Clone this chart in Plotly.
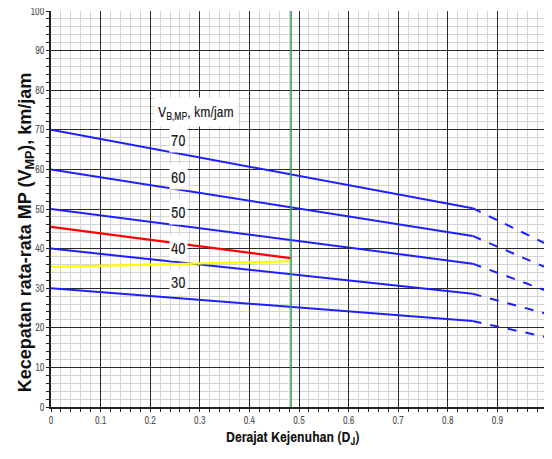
import plotly.graph_objects as go

# Data
vb_labels = ["70", "60", "50", "40", "30"]
x_solid = [0.0, 0.85]
x_dash = [0.85, 1.0]
v_at_0 = [70.0, 60.0, 50.0, 40.0, 30.0]
v_at_085 = [50.2, 43.2, 36.2, 28.6, 21.7]
v_at_1 = [41.1, 35.1, 29.3, 23.5, 17.6]
label_y = [67.3, 58.0, 49.3, 40.1, 31.6]

red_x = [0.0, 0.483]
red_y = [45.5, 37.6]
yellow_x = [0.0, 0.483]
yellow_y = [35.4, 36.8]
green_x = 0.484

x_ticks = [0, 0.1, 0.2, 0.3, 0.4, 0.5, 0.6, 0.7, 0.8, 0.9, 1]
x_ticktext = ["0", "0.1", "0.2", "0.3", "0.4", "0.5", "0.6", "0.7", "0.8", "0.9", "1"]
y_ticks = list(range(0, 101, 10))

BLUE = "#1f1fff"
NARROW = "Archivo Narrow, Liberation Sans"

fig = go.Figure()

for i in range(len(vb_labels)):
    fig.add_trace(go.Scatter(x=x_solid, y=[v_at_0[i], v_at_085[i]], mode="lines",
                             line=dict(color=BLUE, width=2), showlegend=False, hoverinfo="skip"))
    fig.add_trace(go.Scatter(x=x_dash, y=[v_at_085[i], v_at_1[i]], mode="lines",
                             line=dict(color=BLUE, width=2, dash="dash"), showlegend=False, hoverinfo="skip"))

fig.add_trace(go.Scatter(x=red_x, y=red_y, mode="lines", line=dict(color="#ff0000", width=2.2),
                         showlegend=False, hoverinfo="skip"))
fig.add_trace(go.Scatter(x=yellow_x, y=yellow_y, mode="lines", line=dict(color="#ffff00", width=2.2),
                         showlegend=False, hoverinfo="skip"))
fig.add_trace(go.Scatter(x=[green_x, green_x], y=[0, 100], mode="lines",
                         line=dict(color="#22a050", width=1.5), showlegend=False, hoverinfo="skip"))

for lab, ly in zip(vb_labels, label_y):
    fig.add_annotation(x=0.257, y=ly, text=lab, showarrow=False, bgcolor="white",
                       font=dict(family=NARROW, size=16, color="#222222"),
                       borderpad=1)

fig.add_annotation(x=0.293, y=74.6, text="V<sub>B,MP</sub>, km/jam", showarrow=False, bgcolor="white",
                   font=dict(family=NARROW, size=15, color="#222222"), borderpad=3)

# Axis titles
fig.add_annotation(x=-0.0504, y=0.441, xref="paper", yref="paper", textangle=-90,
                   xanchor="center", yanchor="middle",
                   text="<b>Kecepatan rata-rata MP (V<sub>MP</sub>), km/jam</b>", showarrow=False,
                   font=dict(family="Liberation Sans", size=18, color="#111111"))
fig.add_annotation(x=0.486, y=-0.0756, xref="paper", yref="paper",
                   xanchor="center", yanchor="middle",
                   text="<b>Derajat Kejenuhan (D<sub>J</sub>)</b>", showarrow=False,
                   font=dict(family=NARROW, size=15, color="#111111"))

tickfont = dict(family=NARROW, size=10, color="#505050")

fig.update_xaxes(range=[0, 1], tickvals=x_ticks, ticktext=x_ticktext, tickfont=tickfont,
                 automargin=False, ticklabeloverflow="allow",
                 showgrid=True, gridcolor="#2a2a2a", gridwidth=1.2,
                 showline=True, linecolor="#222222", linewidth=1.5,
                 ticks="outside", ticklen=3, tickcolor="#222222",
                 minor=dict(dtick=0.02, showgrid=True, gridcolor="#d4d4d4", gridwidth=1,
                            ticks="outside", ticklen=3, tickcolor="#222222"),
                 zeroline=False)
fig.update_yaxes(range=[0, 100], tickvals=y_ticks, tickfont=tickfont,
                 automargin=False, ticklabeloverflow="allow",
                 showgrid=True, gridcolor="#2a2a2a", gridwidth=1.2,
                 showline=True, linecolor="#222222", linewidth=1.5,
                 ticks="outside", ticklen=3, tickcolor="#222222",
                 minor=dict(dtick=2, showgrid=True, gridcolor="#d4d4d4", gridwidth=1,
                            ticks="outside", ticklen=3, tickcolor="#222222"),
                 zeroline=False)

# The page body adds an 8px offset; size the figure so it exactly fills the window without scrollbars
fig.update_layout(width=544, height=451, margin=dict(l=43, r=5, t=3, b=52),
                  plot_bgcolor="white", paper_bgcolor="white")

fig.write_html("out.html")
